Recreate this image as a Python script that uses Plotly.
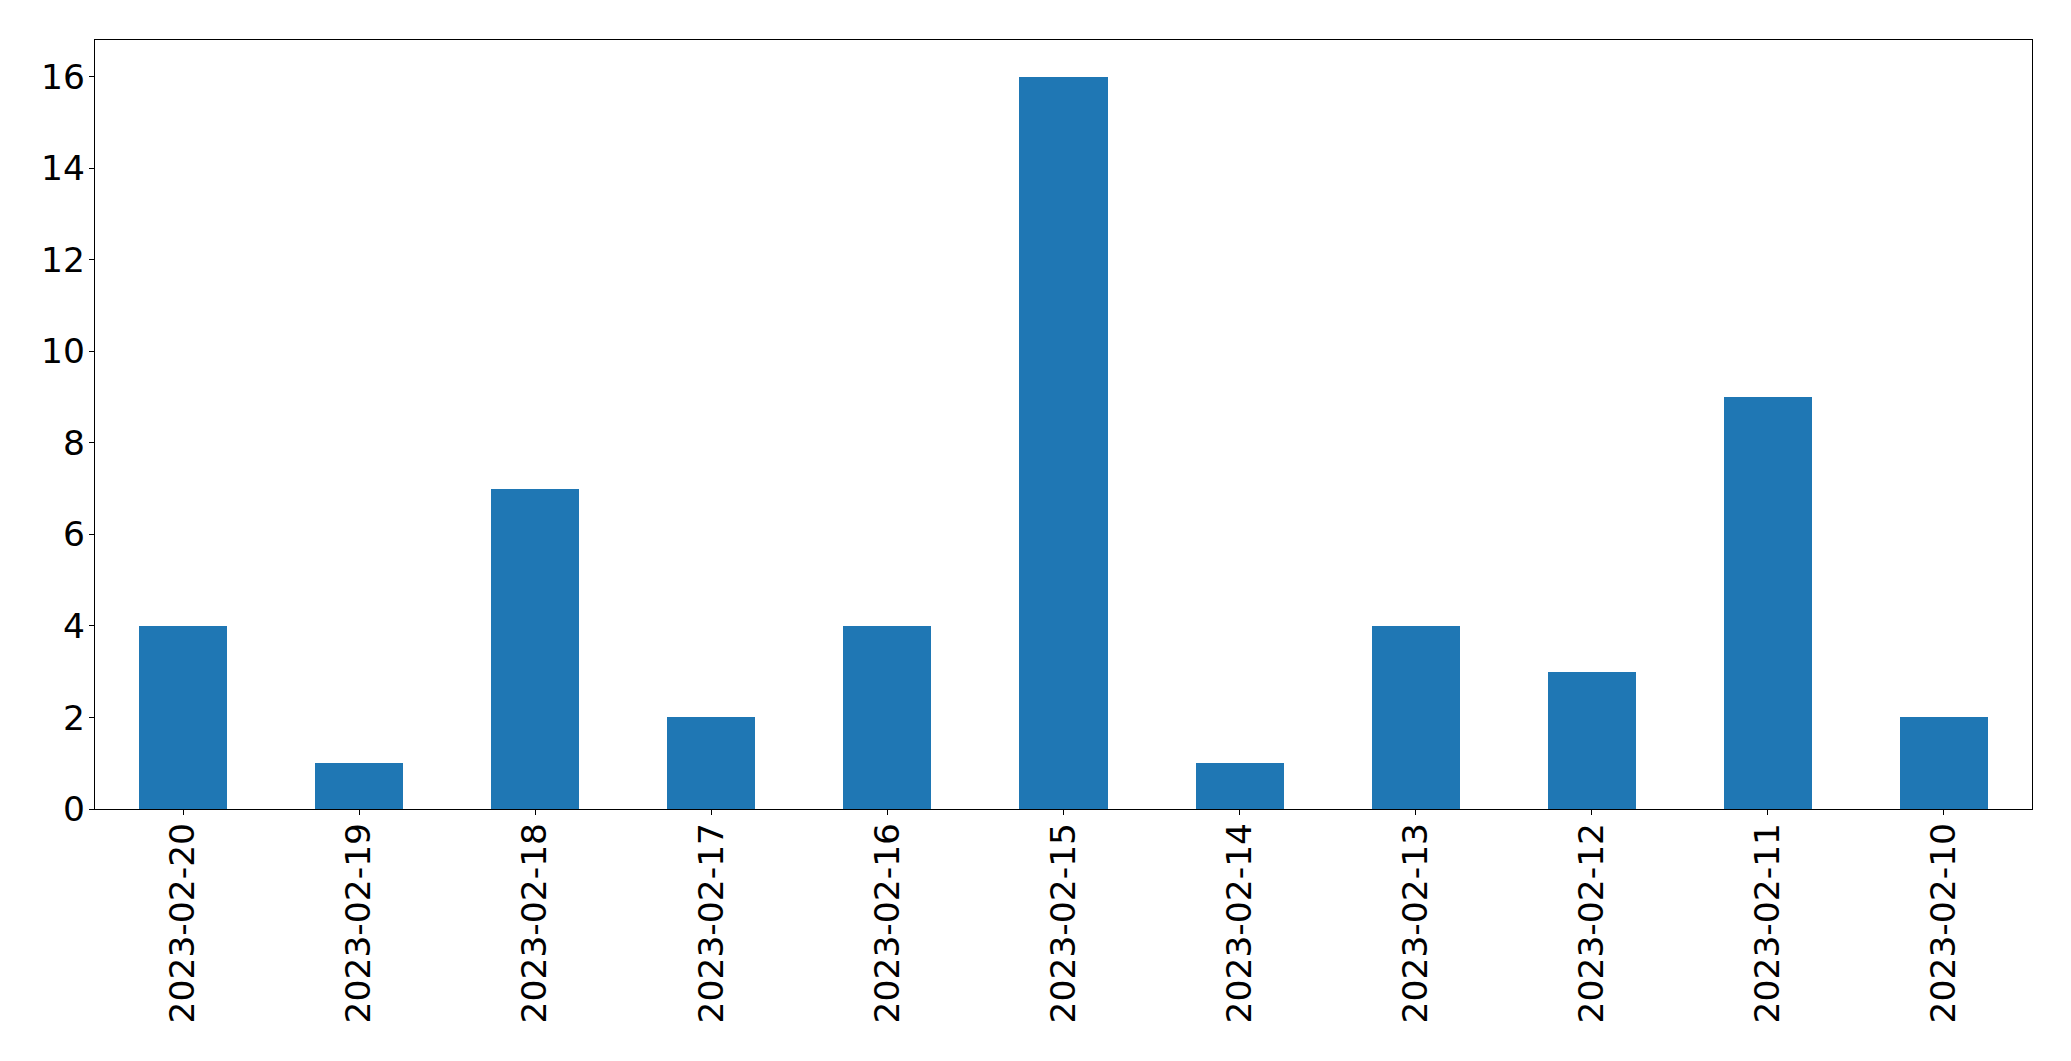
import plotly.graph_objects as go

dates = ["2023-02-20", "2023-02-19", "2023-02-18", "2023-02-17", "2023-02-16",
         "2023-02-15", "2023-02-14", "2023-02-13", "2023-02-12", "2023-02-11", "2023-02-10"]
counts = [4, 1, 7, 2, 4, 16, 1, 4, 3, 9, 2]
y_ticks = [0, 2, 4, 6, 8, 10, 12, 14, 16]

fig = go.Figure(go.Bar(x=dates, y=counts, width=0.5, marker=dict(color="#1f77b4", line=dict(width=0))))

# page body has an 8px default margin, so the figure is offset by 8px
fig.update_layout(
    width=2063, height=1053,
    margin=dict(l=86.5, r=39, t=31.5, b=252, pad=0),
    plot_bgcolor="white", paper_bgcolor="white",
    font=dict(family="DejaVu Sans", size=34, color="black"),
    showlegend=False,
    bargap=0,
)
fig.update_xaxes(
    type="category", range=[-0.5, len(dates) - 0.5], automargin=False,
    tickangle=-90, ticks="outside", ticklen=5, tickwidth=1.3, tickcolor="black",
    ticklabelstandoff=-6,
    showline=True, linecolor="black", linewidth=1.3, mirror=True,
    showgrid=False, zeroline=False, tickfont=dict(size=34.5),
)
fig.update_yaxes(
    range=[0, 16.8], tickvals=y_ticks, ticktext=[str(v) for v in y_ticks], automargin=False,
    ticks="outside", ticklen=5, tickwidth=1.3, tickcolor="black",
    ticklabelstandoff=-3,
    showline=True, linecolor="black", linewidth=1.3, mirror=True,
    showgrid=False, zeroline=False, tickfont=dict(size=34.5),
)
fig.write_html("out.html")
